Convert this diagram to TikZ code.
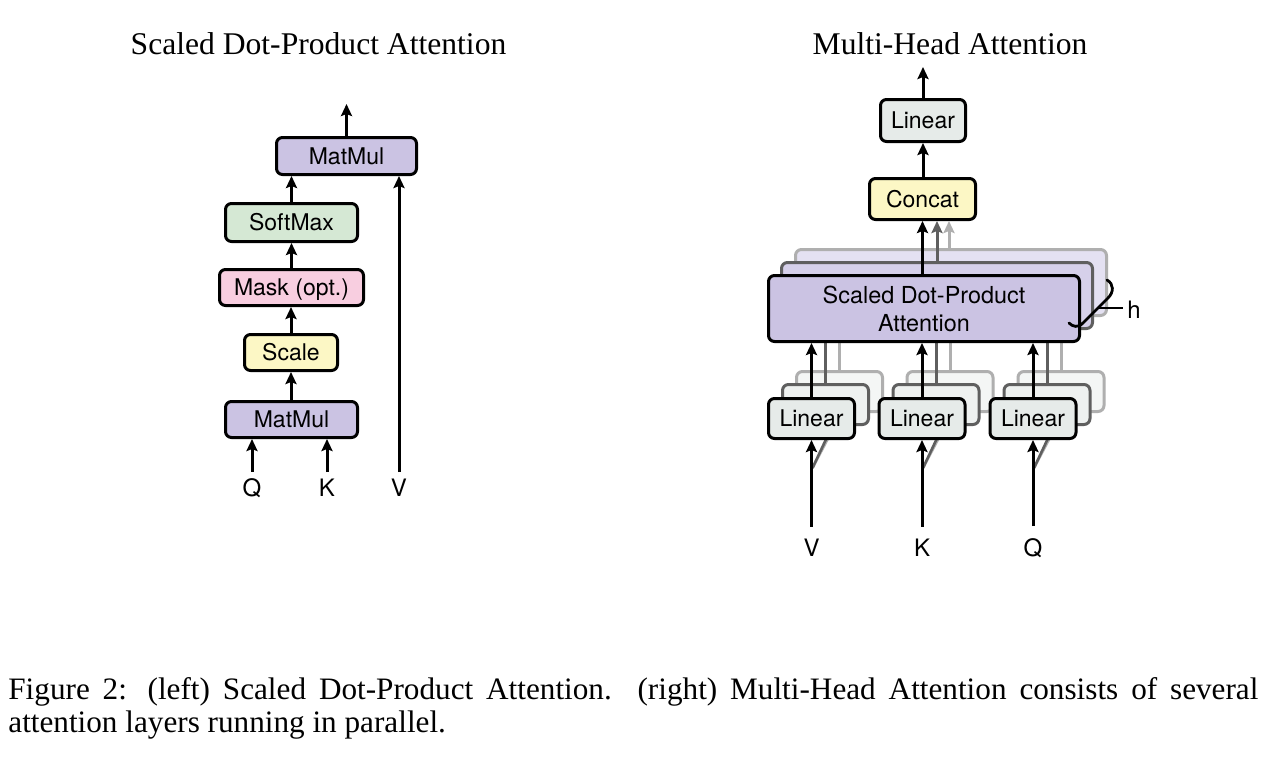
\documentclass[tikz,border=0pt]{standalone}
\usepackage{fontspec}
\usepackage{graphicx}
\setmainfont{Liberation Serif}
\newfontfamily\helv{TeX Gyre Heros}
\usetikzlibrary{arrows.meta}
\definecolor{lav}{RGB}{203,195,227}
\definecolor{lavB}{RGB}{214,208,234}
\definecolor{lavC}{RGB}{228,225,242}
\definecolor{softgreen}{RGB}{213,232,212}
\definecolor{softpink}{RGB}{248,206,224}
\definecolor{softyellow}{RGB}{252,247,197}
\definecolor{lingray}{RGB}{230,235,233}
\definecolor{lingrayB}{RGB}{238,241,240}
\definecolor{lingrayC}{RGB}{244,246,245}
\definecolor{shadeB}{RGB}{95,95,95}
\definecolor{shadeC}{RGB}{175,175,175}
\begin{document}
\begin{tikzpicture}[x=0.5pt,y=-0.5pt,
  box/.style={draw, line width=1.5pt, rounded corners=3pt, inner sep=0pt,
    font=\helv\fontsize{11.5}{13}\selectfont, text height=8.2pt, text depth=0pt},
  lab/.style={font=\helv\fontsize{12}{14}\selectfont, inner sep=3pt, anchor=base},
  arr/.style={line width=1.5pt, -{Stealth[length=6pt,width=5.5pt,inset=1pt]}},
  garr/.style={line width=1.5pt, -{Stealth[length=6pt,width=5.5pt,inset=1pt]}},
  title/.style={font=\fontsize{15.8}{18}\selectfont, anchor=base, inner sep=0pt},
  linbox/.style={box, fill=lingray, minimum width=43pt, minimum height=20pt},
  sdpabox/.style={box, minimum width=155.5pt, minimum height=33pt}
]
\useasboundingbox (0,0) rectangle (1270,762);
\fill[white] (0,0) rectangle (1270,762);

% ---------------- titles
\node[title] (t1) at (318.5,54) {Scaled Dot-Product Attention};
\node[title] (t2) at (950,54) {Multi-Head Attention};

% ---------------- left: scaled dot-product attention
\node[box, fill=lav, minimum width=70pt, minimum height=18.5pt] (mmT) at (346.5,156) {MatMul};
\node[box, fill=softgreen, minimum width=66pt, minimum height=19pt] (sm) at (291.5,222.5) {SoftMax};
\node[box, fill=softpink, minimum width=72pt, minimum height=18pt] (mask) at (291.5,287.5) {Mask (opt.)};
\node[box, fill=softyellow, minimum width=46.5pt, minimum height=18pt] (scale) at (291,352.5) {Scale};
\node[box, fill=lav, minimum width=66pt, minimum height=18pt] (mmB) at (291.5,419.5) {MatMul};
\node[lab] (q1) at (252,496) {Q};
\node[lab] (k1) at (327,496) {K};
\node[lab] (v1) at (399,496) {V};
\coordinate (out1) at (346.5,104);

\draw[arr] (mmB.north -| scale.south) -- (scale.south);
\draw[arr] (scale.north) -- (scale.north |- mask.south);
\draw[arr] (mask.north) -- (mask.north |- sm.south);
\draw[arr] (sm.north) -- (sm.north |- mmT.south);
\draw[arr] (mmT.north) -- (out1);
\draw[arr] (q1.north) -- (q1.north |- mmB.south);
\draw[arr] (k1.north) -- (k1.north |- mmB.south);
\draw[arr] (v1.north) -- (v1.north |- mmT.south);

% ---------------- right: multi-head attention
% back copies of the attention block
\node[sdpabox, draw=shadeC, fill=lavC] (sdpaC) at (951,282.5) {};
\node[sdpabox, draw=shadeB, fill=lavB] (sdpaB) at (937,295.5) {};

% linear stacks
\foreach \n/\x in {V/811.5,K/922,Q/1033}{
  \node[linbox, draw=shadeC, fill=lingrayC] (lin\n C) at (\x+28,391.5) {};
  \node[linbox, draw=shadeB, fill=lingrayB] (lin\n B) at (\x+14,404.5) {};
  \draw[line width=1.5pt, shadeC] (lin\n C.north) -- (lin\n C.north |- sdpaC.south);
  \draw[line width=1.5pt, shadeB] (lin\n B.north) -- (lin\n B.north |- sdpaB.south);
  \node[lab, inner sep=6pt] (in\n) at (\x,556.5) {\n};
  \coordinate (sl\n) at (\x+1,468);
  \draw[line width=1.3pt, shadeC] (sl\n) -- (\x+22,428);
  \draw[line width=1.3pt, shadeB] (sl\n) -- (\x+17,434);
  \node[linbox] (lin\n) at (\x,418.5) {Linear};
  \draw[arr] (in\n.north) -- (lin\n.south);
}

\node[sdpabox, fill=lav, align=center, text height=, text depth=,
  font=\helv\fontsize{11.7}{14}\selectfont] (sdpa) at (924,308.5) {Scaled Dot-Product\\Attention};

\foreach \n in {V,K,Q}{
  \draw[arr] (lin\n.north) -- (lin\n.north |- sdpa.south);
}

\node[box, fill=softyellow, minimum width=53pt, minimum height=20.5pt] (concat) at (922.5,199) {Concat};
\node[box, fill=lingray, minimum width=42.5pt, minimum height=21pt] (linO) at (923,120.5) {Linear};
\coordinate (out2) at (923,67);

\draw[garr, shadeC] (sdpaC.north -| 949,0) -- (949,0 |- concat.south);
\draw[garr, shadeB] (sdpaB.north -| 937,0) -- (937,0 |- concat.south);
\draw[arr] (sdpa.north -| concat.south) -- (concat.south);
\draw[arr] (concat.north -| linO.south) -- (linO.south);
\draw[arr] (linO.north) -- (out2);

% brace with h
\draw[line width=1.4pt, line cap=round] (1107,280) .. controls (1114,284) and (1114,292) .. (1108,298)
  -- (1083,323) .. controls (1078,328) and (1073,327) .. (1069,323);
\coordinate (hb) at (1098,308);
\node[lab, inner sep=2pt, anchor=base] (h) at (1134,318) {h};
\draw[line width=1.4pt] (hb) -- (h.west |- hb);

% ---------------- caption
\node[anchor=base west, inner sep=0pt] (cap) at (8,699) {\parbox[t]{625pt}{\fontsize{15.6}{16.5}\selectfont
\hbox to \linewidth{Figure 2: (left) Scaled Dot-Product Attention. (right) Multi-Head Attention consists of several}
attention layers running in parallel.}};
\end{tikzpicture}
\end{document}
